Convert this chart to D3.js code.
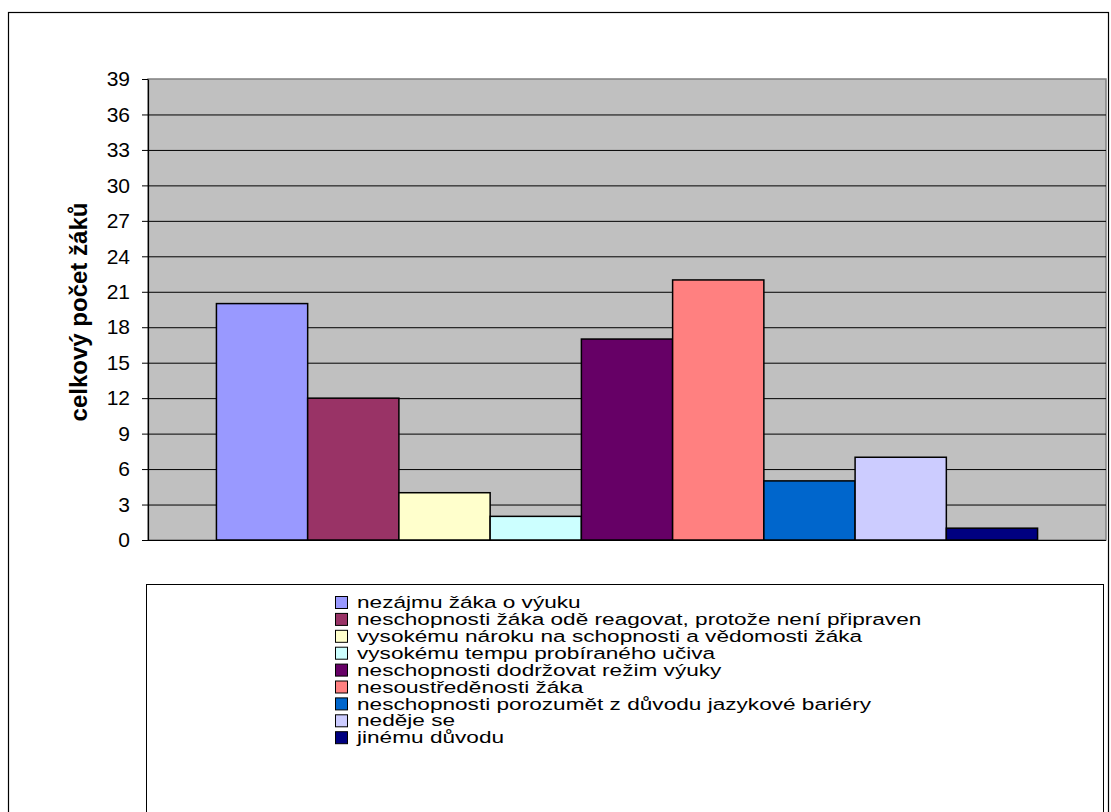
<!DOCTYPE html>
<html>
<head>
<meta charset="utf-8">
<script src="https://cdn.jsdelivr.net/npm/d3@7"></script>
<style>
  html, body { margin: 0; padding: 0; background: #fff; }
  svg { display: block; font-family: "Liberation Sans", Arial, sans-serif; }
</style>
</head>
<body>
<div id="chart"></div>
<script>
// data
const reasons = [
  'nezájmu žáka o výuku',
  'neschopnosti žáka odě reagovat, protože není připraven',
  'vysokému nároku na schopnosti a vědomosti žáka',
  'vysokému tempu probíraného učiva',
  'neschopnosti dodržovat režim výuky',
  'nesoustředěnosti žáka',
  'neschopnosti porozumět z důvodu jazykové bariéry',
  'neděje se',
  'jinému důvodu'
];
const counts = [20, 12, 4, 2, 17, 22, 5, 7, 1];
const barColors = ['#9999ff', '#993366', '#ffffcc', '#ccffff', '#660066', '#ff8080', '#0066cc', '#ccccff', '#000080'];
const yTicks = [0, 3, 6, 9, 12, 15, 18, 21, 24, 27, 30, 33, 36, 39];
const yTitle = 'celkový počet žáků';

const W = 1111, H = 812;
const plot = { left: 148, top: 79, right: 1106, bottom: 540 };

const svg = d3.select('#chart').append('svg')
  .attr('width', W)
  .attr('height', H);

// outer chart frame
svg.append('rect')
  .attr('x', 8.5).attr('y', 12.5)
  .attr('width', 1100).attr('height', 820)
  .attr('fill', '#fff')
  .attr('stroke', '#000')
  .attr('stroke-width', 1.2);

const x = d3.scaleBand()
  .domain(reasons)
  .range([plot.left, plot.right])
  .paddingInner(0)
  .paddingOuter(0.75);

const y = d3.scaleLinear()
  .domain([0, 39])
  .range([plot.bottom, plot.top]);

const color = d3.scaleOrdinal().domain(reasons).range(barColors);

// plot background
svg.append('rect')
  .attr('x', plot.left).attr('y', plot.top)
  .attr('width', plot.right - plot.left)
  .attr('height', plot.bottom - plot.top)
  .attr('fill', '#c0c0c0')
  .attr('stroke', '#808080')
  .attr('stroke-width', 1.5);

// gridlines
svg.append('g')
  .selectAll('line')
  .data(yTicks.filter(d => d > 0 && d < 39))
  .enter().append('line')
  .attr('x1', plot.left).attr('x2', plot.right)
  .attr('y1', d => y(d) + 0.5).attr('y2', d => y(d) + 0.5)
  .attr('stroke', '#000')
  .attr('stroke-width', 1);

// bars
svg.append('g')
  .selectAll('rect')
  .data(counts)
  .enter().append('rect')
  .attr('x', (d, i) => x(reasons[i]))
  .attr('y', d => y(d))
  .attr('width', x.bandwidth())
  .attr('height', d => y(0) - y(d))
  .attr('fill', (d, i) => color(reasons[i]))
  .attr('stroke', '#000')
  .attr('stroke-width', 1.5);

// x axis line
svg.append('line')
  .attr('x1', plot.left - 6).attr('x2', plot.right)
  .attr('y1', y(0) + 0.5).attr('y2', y(0) + 0.5)
  .attr('stroke', '#000')
  .attr('stroke-width', 1.2);

// y axis
const yAxis = svg.append('g')
  .attr('transform', `translate(${plot.left},0)`)
  .call(d3.axisLeft(y).tickValues(yTicks).tickSize(6).tickPadding(12).tickSizeOuter(0));
yAxis.select('.domain').attr('stroke', '#000').attr('stroke-width', 1.2);
yAxis.selectAll('.tick line').attr('stroke', '#000');
yAxis.selectAll('.tick text')
  .attr('fill', '#000')
  .style('font-size', '21px')
  .style('font-family', '"Liberation Sans", Arial, sans-serif');

// y axis title
svg.append('text')
  .attr('transform', `translate(87,312) rotate(-90)`)
  .attr('text-anchor', 'middle')
  .style('font-size', '24px')
  .style('font-weight', 'bold')
  .text(yTitle);

// legend
const legend = svg.append('g');
legend.append('rect')
  .attr('x', 146.5).attr('y', 584.5)
  .attr('width', 957).attr('height', 260)
  .attr('fill', '#fff')
  .attr('stroke', '#000')
  .attr('stroke-width', 1);

const rows = legend.selectAll('g.item')
  .data(reasons)
  .enter().append('g')
  .attr('class', 'item')
  .attr('transform', (d, i) => `translate(335,${602 + i * 16.9})`);

rows.append('rect')
  .attr('x', 0.5).attr('y', -5.5)
  .attr('width', 12).attr('height', 12)
  .attr('fill', d => color(d))
  .attr('stroke', '#000')
  .attr('stroke-width', 1);

// legend text in the source is wider than it is tall
rows.append('text')
  .attr('transform', 'translate(22,0) scale(1.33,1)')
  .attr('dy', '0.36em')
  .style('font-size', '17px')
  .text(d => d);
</script>
</body>
</html>
